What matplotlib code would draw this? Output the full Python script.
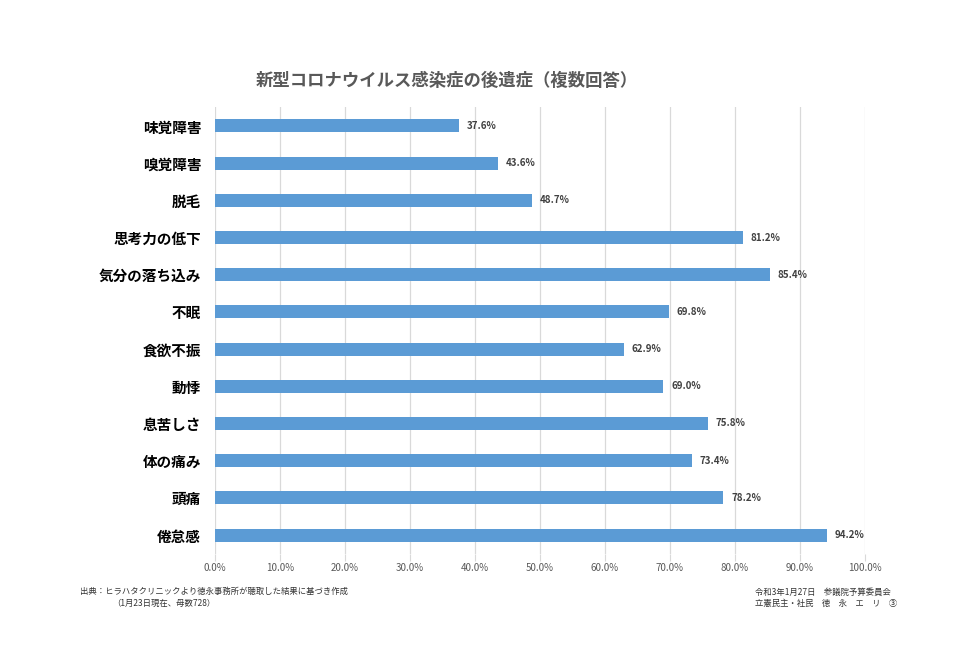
import matplotlib

matplotlib.use("Agg")
import matplotlib.pyplot as plt
import numpy as np

plt.rcParams["font.family"] = ["Noto Sans CJK JP", "DejaVu Sans"]

BAR = "#5b9bd5"
GRID = "#d9d9d9"
INK = "#595959"

categories = ["味覚障害", "嗅覚障害", "脱毛", "思考力の低下", "気分の落ち込み", "不眠",
              "食欲不振", "動悸", "息苦しさ", "体の痛み", "頭痛", "倦怠感"]
values = [37.6, 43.6, 48.7, 81.2, 85.4, 69.8, 62.9, 69.0, 75.8, 73.4, 78.2, 94.2]
xticks = np.arange(0, 101, 10)

fig = plt.figure(figsize=(9.6, 6.65), dpi=100)
ax = fig.add_axes([0.224, 0.1675, 0.677, 0.671])

y = np.arange(len(categories))
ax.barh(y, values, height=0.35, color=BAR, zorder=3)
for yi, v in zip(y, values):
    ax.text(v + 1.2, yi, f"{v:.1f}%", va="center", ha="left",
            fontsize=7, fontweight="bold", color="#404040")

ax.set_ylim(len(categories) - 0.5, -0.5)
ax.set_xlim(0, 100)
ax.set_yticks(y)
ax.set_yticklabels(categories, fontsize=10.5, fontweight="bold", color="black")
ax.set_xticks(xticks)
ax.set_xticklabels([f"{t:.1f}%" for t in xticks], fontsize=7, color=INK)
ax.tick_params(axis="y", length=0, pad=10)
ax.tick_params(axis="x", length=5, color=GRID, pad=2)
ax.grid(axis="x", color=GRID, linewidth=0.9, zorder=0)
for s in ax.spines.values():
    s.set_visible(False)

fig.text(0.465, 0.878, "新型コロナウイルス感染症の後遺症（複数回答）",
         ha="center", va="center", fontsize=12.5, fontweight="bold", color=INK)

fig.text(0.083, 0.11, "出典：ヒラハタクリニックより徳永事務所が聴取した結果に基づき作成",
         ha="left", va="center", fontsize=6, color="#333333")
fig.text(0.117, 0.093, "（1月23日現在、母数728）",
         ha="left", va="center", fontsize=6, color="#333333")
fig.text(0.786, 0.11, "令和3年1月27日　参議院予算委員会",
         ha="left", va="center", fontsize=6, color="#333333")
fig.text(0.786, 0.093, "立憲民主・社民　徳　永　エ　リ　③",
         ha="left", va="center", fontsize=6, color="#333333")

fig.savefig("out.png", dpi=100, facecolor="white")
